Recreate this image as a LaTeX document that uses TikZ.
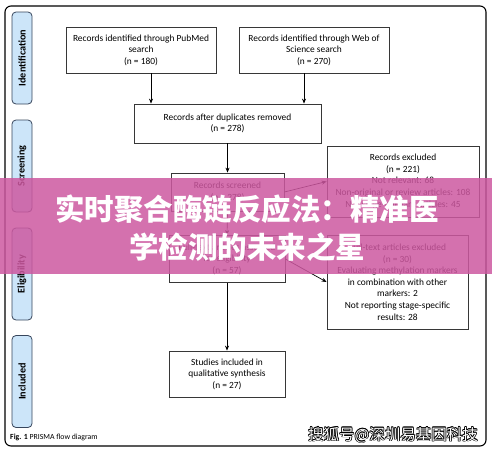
\documentclass[tikz,border=0pt]{standalone}
\usepackage{fontspec}
\setmainfont{Carlito}
\newfontfamily\cjk{Noto Sans CJK SC}
\usetikzlibrary{arrows.meta}

\definecolor{boxline}{RGB}{55,55,55}
\definecolor{stageline}{RGB}{55,70,92}
\definecolor{stagefill}{RGB}{204,229,249}
\definecolor{bannerpink}{RGB}{205,88,160}

\tikzset{
  box/.style={draw=boxline, line width=0.8pt, align=center, inner sep=0pt,
    font=\fontsize{9.4}{11.6}\selectfont},
  stage/.style={draw=stageline, line width=0.8pt, fill=stagefill, rounded corners=4pt,
    minimum width=92pt, minimum height=20pt, inner sep=0pt, rotate=90,
    font=\fontsize{10.2}{12}\selectfont\bfseries},
  arr/.style={-{Stealth[length=5pt,width=4pt]}, line width=0.7pt},
  wm/.style={font=\cjk\fontsize{15.5}{17}\selectfont, inner sep=0pt},
}

\begin{document}
\begin{tikzpicture}[x=1pt,y=1pt,yscale=-1,xscale=1]
\useasboundingbox (0,0) rectangle (492,453);
%Frame
\draw [line width=1.1pt, rounded corners=6pt] (5,6) rectangle (486,446);

%Stage labels
\node [stage] (ident) at (22,58) {Identification};
\node [stage] (screen) at (22,166) {Screening};
\node [stage] (elig) at (22,274) {Eligibility};
\node [stage] (incl) at (22,381.5) {Included};

%Boxes
\node [box, minimum width=150pt, minimum height=46pt] (pubmed) at (141,50)
  {Records identified through PubMed\\search\\(n = 180)};
\node [box, minimum width=150pt, minimum height=46pt] (wos) at (314,50)
  {Records identified through Web of\\Science search\\(n = 270)};
\node [box, minimum width=187pt, minimum height=39pt] (dup) at (227.5,123.5)
  {Records after duplicates removed\\(n = 278)};
\node [box, minimum width=113pt, minimum height=38pt] (screened) at (227.5,192)
  {Records screened\\(n = 278)};
\node [box, minimum width=152pt, minimum height=71pt] (excl1) at (403,181.5)
  {Records excluded\\(n = 221)\\Not relevant: 68\\Non-original or review articles: 108\\Not stage-relevant articles: 45};
\node [box, minimum width=116pt, minimum height=47pt] (fulltext) at (227,259)
  {Full-text articles assessed\\for eligibility\\(n = 57)};
\node [box, minimum width=141pt, minimum height=94pt] (excl2) at (397.5,282)
  {Full-text articles excluded\\(n = 30)\\Evaluating methylation markers\\in combination with other\\markers: 2\\Not reporting stage-specific\\results: 28};
\node [box, minimum width=116pt, minimum height=46pt] (studies) at (227,374)
  {Studies included in\\qualitative synthesis\\(n = 27)};

%Arrows
\draw [arr] ([xshift=10pt]pubmed.south) -- ([xshift=10pt]pubmed.south |- dup.north);
\draw [arr] ([xshift=-10pt]wos.south) -- ([xshift=-10pt]wos.south |- dup.north);
\draw [arr] (dup.south) -- (screened.north);
\draw [arr] (screened.east) -- (excl1.west);
\draw [arr] (screened.south) -- (fulltext.north);
\draw [arr] (fulltext.east) -- (excl2.west);
\draw [arr] (fulltext.south) -- (studies.north);

% Caption
\node [anchor=base west, inner sep=0pt, font=\fontsize{7.8}{9}\selectfont] (caption) at (10,439)
  {\textbf{Fig. 1} PRISMA flow diagram};

%Banner
\fill [bannerpink, opacity=0.85] (0,178) rectangle (492,274);
\node [text=white, align=center, inner sep=0pt, font=\cjk\bfseries\fontsize{29.5}{38}\selectfont] (title) at (247,228)
  {实时聚合酶链反应法：精准医\\学检测的未来之星};

% Watermark
\foreach \dx/\dy [count=\i] in {-0.7/0,0.7/0,0/-0.7,0/0.7,-0.5/-0.5,0.5/0.5,-0.5/0.5,0.5/-0.5}
  \node [wm, text=black, xshift=\dx pt, yshift=\dy pt] (wmback\i) at (393,435) {搜狐号@深圳易基因科技};
\node [wm, text=white] (watermark) at (393,435) {搜狐号@深圳易基因科技};
\end{tikzpicture}
\end{document}
